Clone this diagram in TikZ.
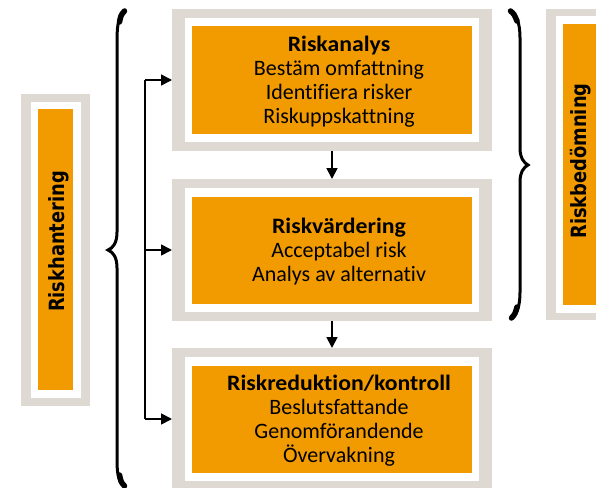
\documentclass[tikz,border=0pt]{standalone}
\usepackage{fontspec}
\setmainfont{Carlito}[Ligatures=NoCommon,BoldFeatures={FakeStretch=1.08}]
\newfontfamily\lblfont{DejaVu Sans}[FakeStretch=0.85]
\usetikzlibrary{arrows.meta}
\definecolor{boxorange}{RGB}{242,155,0}
\definecolor{boxgray}{RGB}{222,217,210}
\tikzset{
  rect/.style 2 args={rectangle, draw=none, inner sep=0pt, outer sep=0pt, minimum width=#1, minimum height=#2},
  graybox/.style 2 args={rect={#1}{#2}, fill=boxgray},
  whitebox/.style 2 args={rect={#1}{#2}, fill=white},
  orangebox/.style 2 args={rect={#1}{#2}, fill=boxorange},
  boxtext/.style={align=center, inner sep=0pt, font=\fontsize{22}{24}\selectfont},
  sidetext/.style={rotate=90, inner sep=0pt, font=\lblfont\bfseries\fontsize{21}{21}\selectfont},
  arr/.style={line width=1.7pt, -{Triangle[length=11pt,width=11pt]}},
  conn/.style={line width=1.7pt},
  brace/.style={line width=3pt, line cap=round},
  braceend/.style={line width=5.5pt, line cap=round},
}
\begin{document}
\begin{tikzpicture}[x=1pt,y=-1pt]
\useasboundingbox (0,0) rectangle (596,487);
% main boxes
\node[graybox={320pt}{142pt}] (g1) at (332,80) {};
\node[whitebox={294pt}{124pt}] (w1) at (332,80) {};
\node[orangebox={280pt}{107pt}] (o1) at (332,80) {};
\node[graybox={320pt}{142pt}] (g2) at (332,250) {};
\node[whitebox={294pt}{124pt}] (w2) at (332,250) {};
\node[orangebox={280pt}{107pt}] (o2) at (332,250) {};
\node[graybox={320pt}{142pt}] (g3) at (332,419) {};
\node[whitebox={294pt}{124pt}] (w3) at (332,419) {};
\node[orangebox={280pt}{107pt}] (o3) at (332,419) {};
\node[boxtext] (t1) at (339,82) {\textbf{Riskanalys}\\Bestäm omfattning\\Identifiera risker\\Riskuppskattning};
\node[boxtext] (t2) at (339,252) {\textbf{Riskvärdering}\\Acceptabel risk\\Analys av alternativ};
\node[boxtext] (t3) at (339,421) {\textbf{Riskreduktion/kontroll}\\Beslutsfattande\\Genomförandende\\Övervakning};
% left side box
\node[graybox={69pt}{312pt}] (gl) at (55.5,250) {};
\node[whitebox={50pt}{296pt}] (wl) at (55.5,250) {};
\node[orangebox={35pt}{281pt}] (ol) at (55.5,249.5) {};
\node[sidetext] (tl) at (59,241.5) {Riskhantering};
% right side box
\node[graybox={71pt}{311pt}] (gr) at (581.5,164.5) {};
\node[whitebox={51pt}{297pt}] (wr) at (581.5,164.5) {};
\node[orangebox={37pt}{281pt}] (or) at (581.5,164.5) {};
\node[sidetext] (tr) at (581,161) {Riskbedömning};
% connectors
\coordinate (vx) at (145,0);
\draw[conn] (g1.west -| vx) -- (g3.west -| vx);
\draw[arr] (g1.west -| vx) -- (g1.west);
\draw[arr] (g2.west -| vx) -- (g2.west);
\draw[arr] (g3.west -| vx) -- (g3.west);
\draw[arr] (g1.south) -- (g2.north);
\draw[arr] (g2.south) -- (g3.north);
% left brace
\draw[brace] (125,10) .. controls (119,15) and (117,24) .. (117,40) -- (117,232)
  .. controls (117,243) and (113,248) .. (108,250)
  .. controls (113,252) and (117,257) .. (117,268) -- (117,460)
  .. controls (117,476) and (119,482) .. (125,487);
\draw[braceend] (124.5,11) .. controls (121,15) .. (119.5,22);
\draw[braceend] (124.5,486) .. controls (121,482) .. (119.5,475);
% right brace
\draw[brace] (510,10) .. controls (516,14) and (520,22) .. (520,38) -- (520,148)
  .. controls (520,158) and (524,163) .. (528,165)
  .. controls (524,167) and (520,172) .. (520,182) -- (520,292)
  .. controls (520,308) and (516,316) .. (511,319);
\draw[braceend] (510.5,11) .. controls (514,14) .. (517,21);
\draw[braceend] (511.5,318) .. controls (515,314) .. (517,307);
\end{tikzpicture}
\end{document}
